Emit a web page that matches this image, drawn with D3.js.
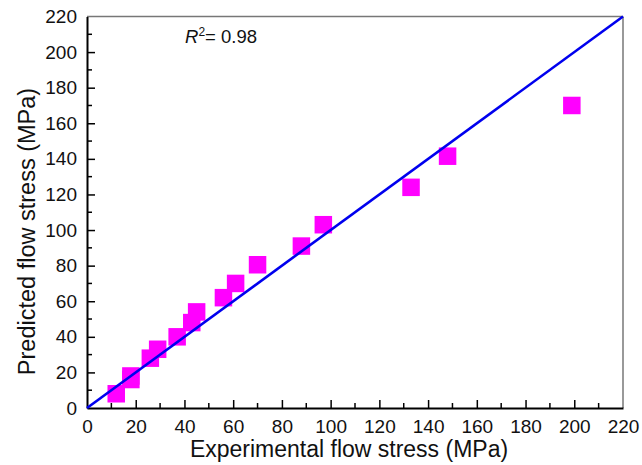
<!DOCTYPE html>
<html>
<head>
<meta charset="utf-8">
<script src="https://cdn.jsdelivr.net/npm/d3@7"></script>
<style>
  body { margin: 0; background: #fff; }
  text { font-family: "Liberation Sans", Arial, sans-serif; fill: #111; }
</style>
</head>
<body>
<svg id="chart" width="642" height="465"></svg>
<script>
// values
const experimental = [12, 18, 18, 26, 29, 37, 43, 45, 56, 61, 70, 88, 97, 133, 148, 199]
const predicted    = [8, 16, 18, 28, 33, 40, 48, 54, 62, 70, 80.5, 91, 103, 124, 141.5, 170]
const tickValues = [0, 20, 40, 60, 80, 100, 120, 140, 160, 180, 200, 220]
const minorTicks = d3.range(10, 220, 20)
const r2Label = '0.98'

const svg = d3.select('#chart')
const margin = {left: 87, right: 19, top: 16.5, bottom: 57}
const width = +svg.attr('width')
const height = +svg.attr('height')

const x = d3.scaleLinear().domain([0, 220]).range([margin.left, width - margin.right])
const y = d3.scaleLinear().domain([0, 220]).range([height - margin.bottom, margin.top])

// frame: top and right in grey
svg.append('line')
  .attr('x1', x(0)).attr('x2', x(220)).attr('y1', y(220)).attr('y2', y(220))
  .attr('stroke', '#777').attr('stroke-width', 1.5)
svg.append('line')
  .attr('x1', x(220)).attr('x2', x(220)).attr('y1', y(0)).attr('y2', y(220))
  .attr('stroke', '#777').attr('stroke-width', 1.5)

// axes with inward ticks
const xAxis = svg.append('g')
  .attr('transform', 'translate(0,' + y(0) + ')')
  .call(d3.axisBottom(x).tickValues(tickValues).tickSize(-8).tickPadding(12).tickSizeOuter(0))
xAxis.selectAll('.tick').filter(d => d === 0 || d === 220).select('line').remove()
xAxis.append('g').selectAll('line')
  .data(minorTicks).enter().append('line')
  .attr('x1', d => x(d)).attr('x2', d => x(d)).attr('y1', 0).attr('y2', -5)
  .attr('stroke', '#000').attr('stroke-width', 1.5)

const yAxis = svg.append('g')
  .attr('transform', 'translate(' + x(0) + ',0)')
  .call(d3.axisLeft(y).tickValues(tickValues).tickSize(-8).tickPadding(10).tickSizeOuter(0))
yAxis.selectAll('.tick').filter(d => d === 0 || d === 220).select('line').remove()
yAxis.append('g').selectAll('line')
  .data(minorTicks).enter().append('line')
  .attr('x1', 0).attr('x2', 5).attr('y1', d => y(d)).attr('y2', d => y(d))
  .attr('stroke', '#000').attr('stroke-width', 1.5)

svg.selectAll('.domain').attr('stroke', '#000').attr('stroke-width', 2)
svg.selectAll('.tick line').attr('stroke', '#000').attr('stroke-width', 1.5)
svg.selectAll('.tick text')
  .style('font-family', '"Liberation Sans", Arial, sans-serif')
  .style('font-size', '19px').attr('fill', '#111')

// points
const size = 17.5
svg.append('g').selectAll('rect')
  .data(experimental.map((e, i) => [e, predicted[i]]))
  .enter().append('rect')
  .attr('x', d => x(d[0]) - size / 2)
  .attr('y', d => y(d[1]) - size / 2)
  .attr('width', size).attr('height', size)
  .attr('fill', '#ff00ff')

// y = x line
svg.append('line')
  .attr('x1', x(0)).attr('y1', y(0)).attr('x2', x(220)).attr('y2', y(220))
  .attr('stroke', '#0000ee').attr('stroke-width', 2.6)

// R^2 label
const r2 = svg.append('text').attr('x', 185).attr('y', 43).style('font-size', '18.5px')
r2.append('tspan').style('font-style', 'italic').text('R')
r2.append('tspan').attr('dy', -7.5).style('font-size', '12px').text('2')
r2.append('tspan').attr('dy', 7.5).text('= ' + r2Label)

// titles
svg.append('text')
  .attr('x', 349).attr('y', 457)
  .attr('text-anchor', 'middle').style('font-size', '23px')
  .text('Experimental flow stress (MPa)')
svg.append('text')
  .attr('transform', 'translate(35,231.5) rotate(-90)')
  .attr('text-anchor', 'middle').style('font-size', '23.5px')
  .text('Predicted flow stress (MPa)')
</script>
</body>
</html>
